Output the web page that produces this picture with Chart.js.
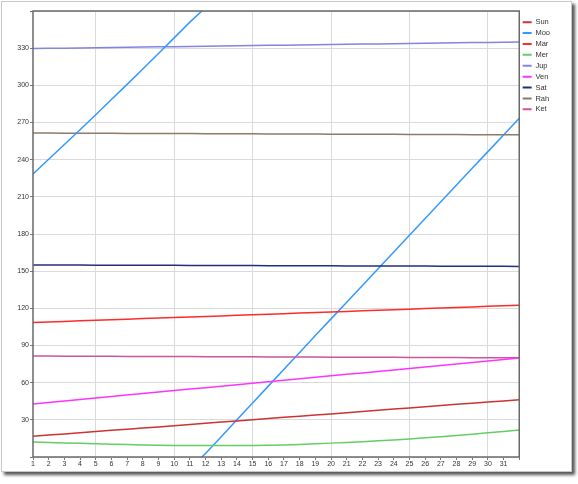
<!DOCTYPE html>
<html>
<head>
<meta charset="utf-8">
<script src="https://cdn.jsdelivr.net/npm/chart.js@4"></script>
<style>
  body { margin: 0; background: #fff; }
  #frame {
    position: absolute; left: 1px; top: 1px; width: 569px; height: 469px;
    border: 1px solid #c8c8c8; box-shadow: 3px 3px 3px #555; background: #fff;
  }
  #chart { position: absolute; left: 0; top: 0; }
</style>
</head>
<body>
<div id="frame"></div>
<canvas id="chart" width="578" height="484"></canvas>
<script>
// days of the month (32 = right edge, unlabeled)
const days = [1,2,3,4,5,6,7,8,9,10,11,12,13,14,15,16,17,18,19,20,21,22,23,24,25,26,27,28,29,30,31,32];
const yTicks = [30,60,90,120,150,180,210,240,270,300,330];

// longitudes in degrees
const sun = [16.7,17.7,18.6,19.6,20.5,21.5,22.4,23.4,24.3,25.3,26.2,27.2,28.2,29.1,30.1,31.0,32.0,32.9,33.9,34.8,35.8,36.7,37.7,38.7,39.6,40.6,41.5,42.5,43.4,44.4,45.3,46.3];
const moo = [228.5,240.3,252.2,264.2,276.3,288.5,300.8,313.2,325.7,338.3,351.0,2.8,16.4,30.0,43.6,57.2,70.8,84.4,98.0,111.5,125.0,138.5,152.0,165.5,179.0,192.5,206.0,219.5,233.0,246.5,260.0,273.4];
const mar = [108.5,109.0,109.4,109.9,110.3,110.8,111.2,111.7,112.1,112.6,113.0,113.5,113.9,114.4,114.8,115.3,115.7,116.2,116.6,117.1,117.5,118.0,118.4,118.9,119.3,119.8,120.2,120.7,121.1,121.6,122.0,122.5];
const mer = [12.2,11.8,11.4,11.0,10.6,10.3,10.0,9.7,9.5,9.35,9.25,9.2,9.2,9.25,9.35,9.5,9.75,10.1,10.6,11.2,11.8,12.4,13.1,13.8,14.6,15.5,16.4,17.4,18.4,19.5,20.6,21.8];
const jup = [329.7,329.9,330.0,330.2,330.4,330.6,330.7,330.9,331.1,331.2,331.4,331.6,331.7,331.9,332.1,332.3,332.4,332.6,332.8,332.9,333.1,333.3,333.4,333.6,333.8,334.0,334.1,334.3,334.5,334.6,334.8,335.0];
const ven = [42.8,44.0,45.2,46.4,47.6,48.8,50.0,51.2,52.4,53.6,54.8,55.9,57.2,58.4,59.6,60.8,62.0,63.2,64.3,65.5,66.7,67.9,69.1,70.3,71.5,72.7,73.9,75.1,76.3,77.5,78.7,79.9];
const sat = [155.0,155.0,154.9,154.9,154.8,154.8,154.8,154.7,154.7,154.7,154.6,154.6,154.5,154.5,154.5,154.4,154.4,154.4,154.3,154.3,154.2,154.2,154.2,154.1,154.1,154.1,154.0,154.0,153.9,153.9,153.9,153.8];
const rah = [261.5,261.5,261.4,261.4,261.3,261.3,261.2,261.2,261.1,261.1,261.1,261.0,261.0,260.9,260.9,260.8,260.8,260.7,260.7,260.6,260.6,260.6,260.5,260.5,260.4,260.4,260.3,260.3,260.2,260.2,260.1,260.1];
const ket = [81.5,81.5,81.4,81.4,81.3,81.3,81.2,81.2,81.1,81.1,81.1,81.0,81.0,80.9,80.9,80.8,80.8,80.7,80.7,80.6,80.6,80.6,80.5,80.5,80.4,80.4,80.3,80.3,80.2,80.2,80.1,80.1];

const colors = {
  Sun: '#cc3333', Moo: '#3399ff', Mar: '#ff2a2a', Mer: '#66cc66', Jup: '#8383e2',
  Ven: '#ff33ff', Sat: '#22307a', Rah: '#8c7b6b', Ket: '#cc5599'
};

const pts = arr => arr.map((v, i) => ({ x: days[i], y: v }));

// moon wraps past 360: split it in two pieces, unwrapped so the line runs off the edges
const wrap = moo.findIndex((v, i) => i > 0 && v < moo[i - 1]);
const mooA = moo.slice(0, wrap + 1).map((v, i) => ({ x: days[i], y: i === wrap ? v + 360 : v }));
const mooB = moo.slice(wrap - 1).map((v, i) => ({ x: days[wrap - 1 + i], y: i === 0 ? v - 360 : v }));

function line(label, data, extra) {
  return Object.assign({
    label, data,
    borderColor: colors[label], backgroundColor: colors[label],
    borderWidth: 1.5, pointRadius: 0, tension: 0, fill: false
  }, extra || {});
}

const frameBox = {
  id: 'frameBox',
  afterDraw(chart) {
    const { ctx, chartArea: a } = chart;
    ctx.save();
    ctx.strokeStyle = '#6a6a6a';
    ctx.lineWidth = 1.5;
    ctx.strokeRect(a.left, a.top, a.right - a.left, a.bottom - a.top);
    ctx.restore();
  }
};

new Chart(document.getElementById('chart'), {
  type: 'line',
  data: {
    datasets: [
      line('Sun', pts(sun)),
      line('Moo', mooA, { clip: 0 }),
      line('Mar', pts(mar)),
      line('Mer', pts(mer)),
      line('Jup', pts(jup)),
      line('Ven', pts(ven)),
      line('Sat', pts(sat)),
      line('Rah', pts(rah)),
      line('Ket', pts(ket)),
      line('Moo2', mooB, { clip: 0, borderColor: colors.Moo })
    ]
  },
  options: {
    responsive: false,
    animation: false,
    layout: { padding: { left: 0, top: 11, right: 18, bottom: 12 } },
    plugins: {
      tooltip: { enabled: false },
      legend: {
        position: 'right',
        align: 'start',
        title: { display: true, text: '', font: { size: 4, lineHeight: 1 }, padding: 0 },
        labels: {
          filter: item => item.text !== 'Moo2',
          generateLabels: chart => Chart.defaults.plugins.legend.labels.generateLabels(chart)
            .map(l => Object.assign(l, { lineWidth: 0 })),
          boxWidth: 9, boxHeight: 2, padding: 3.4,
          color: '#333',
          font: { family: 'Liberation Sans', size: 7.5 }
        }
      }
    },
    scales: {
      x: {
        type: 'linear', min: 1, max: 32,
        afterFit: s => { s.height = 15; },
        afterBuildTicks: s => { s.ticks = days.map(d => ({ value: d })); },
        border: { display: false },
        grid: {
          color: c => (c.tick && c.tick.value % 5 === 0) ? '#dadada' : 'rgba(0,0,0,0)',
          tickColor: '#777', tickLength: 3, lineWidth: 1
        },
        ticks: {
          autoSkip: false, maxRotation: 0, padding: 0,
          color: '#333', font: { family: 'Liberation Sans', size: 7 },
          callback: v => v <= 31 ? String(v) : ''
        }
      },
      y: {
        min: 0, max: 360,
        afterFit: s => { s.width = 33; },
        afterBuildTicks: s => { s.ticks = [0].concat(yTicks, [360]).map(v => ({ value: v })); },
        border: { display: false },
        grid: { color: '#dadada', tickColor: '#777', tickLength: 3, lineWidth: 1 },
        ticks: {
          padding: 1, color: '#333', font: { family: 'Liberation Sans', size: 7 },
          callback: v => yTicks.includes(v) ? String(v) : ''
        }
      }
    }
  },
  plugins: [frameBox]
});
</script>
</body>
</html>
